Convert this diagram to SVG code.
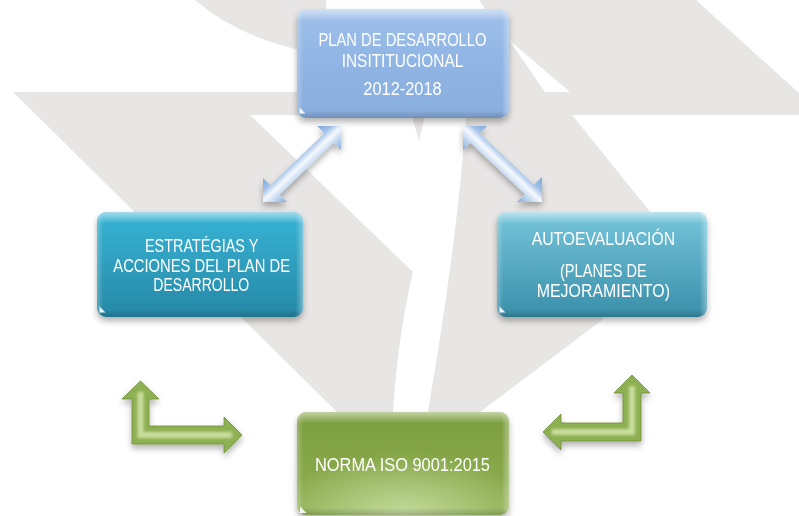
<svg xmlns="http://www.w3.org/2000/svg" width="799" height="516" viewBox="0 0 799 516">
<style>
.bg{fill:#e7e6e4}
.t{fill:#ffffff;font-family:"Liberation Sans",Arial,sans-serif;font-size:18px}
.tri{fill:#ffffff;opacity:.9}
.ga{fill:#8db052;stroke:#6e8e34;stroke-width:.8}
.hl{fill:none;stroke:#d4e6ac;stroke-width:6;stroke-linejoin:miter;opacity:.85}
</style>
<defs>
<filter id="sh" x="-20%" y="-20%" width="140%" height="150%">
<feDropShadow dx="0" dy="4" stdDeviation="3" flood-color="#000" flood-opacity=".3"/>
</filter>
<filter id="blur" x="-20%" y="-20%" width="140%" height="140%"><feGaussianBlur stdDeviation="1.5"/></filter>
<linearGradient id="gTop" x1="0" y1="0" x2="0" y2="1"><stop offset="0" stop-color="#9fc0ea"/><stop offset=".5" stop-color="#90b5e4"/><stop offset="1" stop-color="#88aedf"/></linearGradient>
<linearGradient id="gLeft" x1="0" y1="0" x2="0" y2="1"><stop offset="0" stop-color="#38b4d6"/><stop offset="1" stop-color="#2688a6"/></linearGradient>
<linearGradient id="gRight" x1="0" y1="0" x2="0" y2="1"><stop offset="0" stop-color="#76c5db"/><stop offset="1" stop-color="#398fa9"/></linearGradient>
<linearGradient id="gGreen" x1="0" y1="0" x2="0" y2="1"><stop offset="0" stop-color="#7b9d3d"/><stop offset="1" stop-color="#90b153"/></linearGradient>
<radialGradient id="gGlow" cx=".5" cy="1" r=".6"><stop offset="0" stop-color="#c6dca0" stop-opacity=".95"/><stop offset="1" stop-color="#c6dca0" stop-opacity="0"/></radialGradient>
<linearGradient id="bevV" x1="0" y1="0" x2="0" y2="1"><stop offset="0" stop-color="#fff" stop-opacity=".55"/><stop offset=".06" stop-color="#fff" stop-opacity=".25"/><stop offset=".11" stop-color="#fff" stop-opacity="0"/><stop offset=".93" stop-color="#000" stop-opacity="0"/><stop offset="1" stop-color="#000" stop-opacity=".18"/></linearGradient>
<linearGradient id="bevH" x1="0" y1="0" x2="1" y2="0"><stop offset="0" stop-color="#fff" stop-opacity=".25"/><stop offset=".03" stop-color="#fff" stop-opacity="0"/><stop offset=".965" stop-color="#fff" stop-opacity="0"/><stop offset="1" stop-color="#fff" stop-opacity=".35"/></linearGradient>
<linearGradient id="gArrL" gradientUnits="userSpaceOnUse" x1="289.6" y1="151" x2="314.4" y2="177"><stop offset="0" stop-color="#7ea7db"/><stop offset=".3" stop-color="#a2c1e8"/><stop offset=".5" stop-color="#f6f9fd"/><stop offset=".68" stop-color="#c8dbf2"/><stop offset="1" stop-color="#7ca5d9"/></linearGradient>
<linearGradient id="gArrR" gradientUnits="userSpaceOnUse" x1="514.9" y1="151" x2="490.1" y2="177"><stop offset="0" stop-color="#7ea7db"/><stop offset=".3" stop-color="#a2c1e8"/><stop offset=".5" stop-color="#f6f9fd"/><stop offset=".68" stop-color="#c8dbf2"/><stop offset="1" stop-color="#7ca5d9"/></linearGradient>
</defs>
<rect width="799" height="516" fill="#ffffff"/>
<g id="background">
<path class="bg" d="M195,0 L326,0 L326,60 L300,50 Q235,35 195,0 Z"/>
<path class="bg" d="M13,92 L300,92 L300,115 L250,115 L413,272 Q398,335 393,412 L337,412 Z"/>
<path class="bg" d="M479,0 L696,0 L799,93 L799,115 L572,115 L660,224 L602,320 L480,412 L428,412 C440,340 458,230 466,118 L505,118 L505,40 Z"/>
<path fill="#ffffff" d="M509,40 L570,92 L545,92 Z"/>
<path class="bg" d="M412,116 L425,116 L419,141 Z"/>
</g>
<g id="connectors">
<g id="arrow-top-left" filter="url(#sh)"><path fill="url(#gArrL)" d="M341,126 L341,150 L333.5,142.7 L279.5,194.7 L287,202 L263,202 L263,178 L270.5,185.3 L324.5,133.3 L317,126 Z"/></g>
<g id="arrow-top-right" filter="url(#sh)"><path fill="url(#gArrR)" d="M463,126 L487,126 L479.5,133.3 L534,184.8 L542,177 L542,202 L517,202 L525,194.2 L470.5,142.7 L463,150 Z"/></g>
<g id="arrow-bottom-left" filter="url(#sh)">
<path class="ga" d="M140.5,381 L159,399 L149,399 L149,426 L224,426 L224,417 L242,435 L224,453 L224,444 L132,444 L132,399 L122,399 Z"/>
<polyline class="hl" filter="url(#blur)" points="140.5,392 140.5,435 232,435"/>
</g>
<g id="arrow-bottom-right" filter="url(#sh)">
<path class="ga" d="M632,375 L650,393 L641,393 L641,441 L561,441 L561,450 L543,432 L561,414 L561,423 L623,423 L623,393 L614,393 Z"/>
<polyline class="hl" filter="url(#blur)" points="632,386 632,432 552,432"/>
</g>
</g>
<g id="node-plan" filter="url(#sh)">
<rect x="297" y="9" width="212" height="109" rx="9" fill="url(#gTop)"/>
<rect x="297" y="9" width="212" height="109" rx="9" fill="url(#bevV)"/>
<rect x="297" y="9" width="212" height="109" rx="9" fill="url(#bevH)"/>
<path class="tri" d="M299.5,107.5 L305.5,113.5 L299.5,113.5 Z"/>
<text class="t" x="318.5" y="46" textLength="168" lengthAdjust="spacingAndGlyphs">PLAN DE DESARROLLO</text>
<text class="t" x="341.7" y="66.5" textLength="121.6" lengthAdjust="spacingAndGlyphs">INSITITUCIONAL</text>
<text class="t" x="363.3" y="95" textLength="78.4" lengthAdjust="spacingAndGlyphs">2012-2018</text>
</g>
<g id="node-estrategias" filter="url(#sh)">
<rect x="97" y="212" width="206" height="105" rx="9" fill="url(#gLeft)"/>
<rect x="97" y="212" width="206" height="105" rx="9" fill="url(#bevV)"/>
<rect x="97" y="212" width="206" height="105" rx="9" fill="url(#bevH)"/>
<path class="tri" d="M99.5,306.5 L105.5,312.5 L99.5,312.5 Z"/>
<text class="t" x="145" y="252.3" textLength="113.3" lengthAdjust="spacingAndGlyphs">ESTRATÉGIAS Y</text>
<text class="t" x="113.3" y="271.7" textLength="176.7" lengthAdjust="spacingAndGlyphs">ACCIONES DEL PLAN DE</text>
<text class="t" x="153.3" y="290.5" textLength="96" lengthAdjust="spacingAndGlyphs">DESARROLLO</text>
</g>
<g id="node-autoevaluacion" filter="url(#sh)">
<rect x="497" y="212" width="210" height="105" rx="9" fill="url(#gRight)"/>
<rect x="497" y="212" width="210" height="105" rx="9" fill="url(#bevV)"/>
<rect x="497" y="212" width="210" height="105" rx="9" fill="url(#bevH)"/>
<path class="tri" d="M499.5,306.5 L505.5,312.5 L499.5,312.5 Z"/>
<text class="t" x="531.7" y="245" textLength="143.3" lengthAdjust="spacingAndGlyphs">AUTOEVALUACIÓN</text>
<text class="t" x="560" y="276.5" textLength="86.7" lengthAdjust="spacingAndGlyphs">(PLANES DE</text>
<text class="t" x="536.7" y="296.5" textLength="133.3" lengthAdjust="spacingAndGlyphs">MEJORAMIENTO)</text>
</g>
<g id="node-norma" filter="url(#sh)">
<rect x="297" y="412" width="212" height="103" rx="9" fill="url(#gGreen)"/>
<rect x="297" y="412" width="212" height="103" rx="9" fill="url(#gGlow)"/>
<rect x="297" y="412" width="212" height="103" rx="9" fill="url(#bevV)"/>
<rect x="297" y="412" width="212" height="103" rx="9" fill="url(#bevH)"/>
<path class="tri" d="M300,506.5 L306.5,513 L300,513 Z"/>
<text class="t" x="315" y="470.7" textLength="175" lengthAdjust="spacingAndGlyphs">NORMA ISO 9001:2015</text>
</g>
</svg>
